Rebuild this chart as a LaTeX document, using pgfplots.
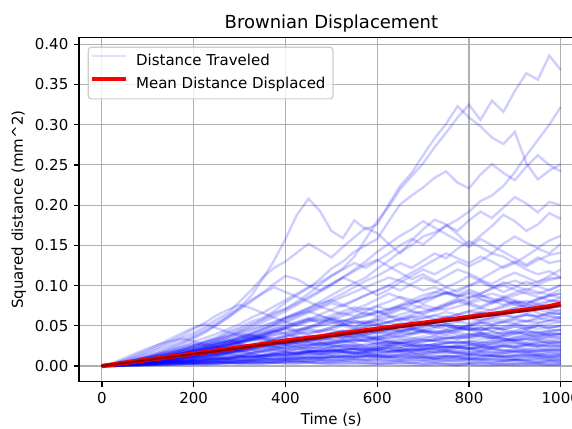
\documentclass[border=0pt]{standalone}
\usepackage{fontspec}
\setmainfont{DejaVu Sans}
\usepackage{pgfplots}
\usepackage{pgfplotstable}
\pgfplotsset{compat=1.18}
\definecolor{gridgray}{RGB}{176,176,176}
\definecolor{legedge}{RGB}{204,204,204}
\pgfplotstableread[header=has colnames]{
id 0 25 50 75 100 125 150 175 200 225 250 275 300 325 350 375 400 425 450 475 500 525 550 575 600 625 650 675 700 725 750 775 800 825 850 875 900 925 950 975 1000
p1 0 0.002 0.004 0.007 0.010 0.013 0.017 0.021 0.026 0.030 0.034 0.041 0.046 0.052 0.058 0.066 0.071 0.080 0.090 0.101 0.112 0.121 0.136 0.158 0.180 0.198 0.220 0.236 0.252 0.272 0.290 0.309 0.325 0.306 0.330 0.316 0.342 0.364 0.356 0.386 0.368
p2 0 0.001 0.004 0.006 0.010 0.015 0.021 0.027 0.034 0.042 0.051 0.061 0.073 0.087 0.108 0.131 0.158 0.188 0.208 0.193 0.168 0.159 0.181 0.170 0.176 0.201 0.224 0.240 0.262 0.283 0.301 0.323 0.309 0.298 0.284 0.276 0.291 0.252 0.232 0.243 0.251
p3 0 0.002 0.003 0.005 0.007 0.010 0.012 0.016 0.020 0.023 0.027 0.030 0.036 0.040 0.046 0.052 0.060 0.066 0.072 0.080 0.088 0.096 0.103 0.110 0.121 0.131 0.142 0.150 0.161 0.166 0.174 0.182 0.192 0.205 0.212 0.224 0.241 0.262 0.281 0.300 0.322
p4 0 0.001 0.003 0.006 0.009 0.012 0.016 0.020 0.025 0.031 0.036 0.043 0.048 0.055 0.060 0.068 0.079 0.088 0.097 0.108 0.121 0.130 0.142 0.150 0.158 0.180 0.201 0.212 0.222 0.234 0.242 0.228 0.221 0.238 0.251 0.240 0.231 0.248 0.262 0.250 0.242
p5 0 0.002 0.005 0.008 0.011 0.015 0.019 0.024 0.030 0.035 0.040 0.046 0.052 0.060 0.066 0.074 0.082 0.090 0.098 0.104 0.112 0.120 0.128 0.122 0.131 0.140 0.150 0.158 0.151 0.163 0.175 0.168 0.181 0.192 0.184 0.197 0.210 0.202 0.191 0.204 0.200
p6 0 0.003 0.006 0.011 0.016 0.022 0.028 0.035 0.041 0.049 0.058 0.066 0.080 0.094 0.110 0.122 0.130 0.141 0.152 0.144 0.135 0.148 0.160 0.172 0.165 0.152 0.140 0.156 0.170 0.182 0.176 0.164 0.150 0.162 0.174 0.188 0.180 0.168 0.176 0.190 0.183
p7 0 0.001 0.003 0.005 0.007 0.010 0.013 0.016 0.019 0.023 0.027 0.031 0.036 0.040 0.045 0.051 0.058 0.064 0.070 0.076 0.083 0.090 0.098 0.106 0.112 0.120 0.128 0.122 0.131 0.140 0.134 0.146 0.155 0.148 0.140 0.152 0.161 0.153 0.147 0.156 0.162
p8 0 0.002 0.004 0.008 0.012 0.017 0.023 0.029 0.036 0.043 0.051 0.060 0.070 0.080 0.091 0.102 0.112 0.108 0.100 0.094 0.102 0.110 0.104 0.096 0.088 0.095 0.104 0.112 0.120 0.114 0.122 0.130 0.124 0.131 0.140 0.136 0.128 0.137 0.146 0.140 0.152
p9 0 0.001 0.002 0.004 0.006 0.008 0.011 0.014 0.017 0.020 0.024 0.028 0.032 0.037 0.042 0.048 0.054 0.060 0.066 0.072 0.078 0.074 0.081 0.088 0.094 0.100 0.094 0.102 0.110 0.104 0.112 0.120 0.115 0.108 0.116 0.124 0.130 0.124 0.132 0.138 0.141
p10 0 0.001 0.003 0.005 0.008 0.011 0.014 0.018 0.022 0.026 0.031 0.036 0.042 0.048 0.054 0.061 0.068 0.076 0.084 0.092 0.100 0.110 0.120 0.130 0.142 0.152 0.162 0.170 0.180 0.172 0.164 0.156 0.148 0.158 0.150 0.142 0.134 0.126 0.135 0.128 0.131
p11 0 0.002 0.005 0.009 0.014 0.019 0.025 0.031 0.038 0.046 0.054 0.063 0.072 0.082 0.090 0.098 0.092 0.086 0.080 0.074 0.069 0.064 0.070 0.076 0.083 0.090 0.085 0.078 0.084 0.091 0.098 0.092 0.100 0.107 0.102 0.110 0.116 0.110 0.104 0.112 0.120
p12 0 0.001 0.002 0.003 0.005 0.007 0.009 0.012 0.015 0.018 0.021 0.025 0.029 0.033 0.037 0.042 0.047 0.052 0.058 0.054 0.060 0.066 0.062 0.068 0.074 0.070 0.076 0.082 0.078 0.085 0.092 0.088 0.095 0.090 0.097 0.104 0.100 0.094 0.101 0.107 0.110
p13 0 0.002 0.004 0.006 0.009 0.012 0.016 0.020 0.024 0.028 0.033 0.038 0.044 0.050 0.057 0.064 0.071 0.078 0.086 0.094 0.102 0.110 0.118 0.126 0.132 0.124 0.116 0.108 0.114 0.106 0.098 0.104 0.112 0.106 0.099 0.092 0.098 0.105 0.099 0.094 0.101
p14 0 0.001 0.002 0.004 0.006 0.009 0.012 0.015 0.018 0.022 0.026 0.030 0.034 0.039 0.036 0.041 0.046 0.043 0.048 0.053 0.058 0.055 0.061 0.066 0.062 0.068 0.073 0.070 0.076 0.072 0.078 0.084 0.080 0.086 0.090 0.086 0.091 0.096 0.092 0.089 0.095
p15 0 0.003 0.007 0.012 0.018 0.024 0.031 0.038 0.046 0.054 0.063 0.070 0.076 0.072 0.066 0.060 0.055 0.050 0.056 0.062 0.058 0.053 0.048 0.054 0.060 0.066 0.072 0.068 0.064 0.070 0.076 0.082 0.078 0.074 0.080 0.086 0.082 0.078 0.084 0.088 0.090
p16 0 0.001 0.003 0.004 0.006 0.008 0.010 0.013 0.016 0.019 0.022 0.025 0.029 0.032 0.036 0.034 0.038 0.042 0.040 0.044 0.048 0.052 0.049 0.053 0.057 0.054 0.058 0.062 0.059 0.063 0.067 0.064 0.068 0.072 0.069 0.073 0.077 0.074 0.078 0.081 0.080
p17 0 0.001 0.002 0.003 0.005 0.007 0.009 0.011 0.013 0.016 0.014 0.017 0.020 0.023 0.026 0.024 0.027 0.030 0.034 0.032 0.036 0.040 0.044 0.041 0.045 0.049 0.053 0.050 0.054 0.058 0.062 0.059 0.063 0.067 0.064 0.068 0.072 0.069 0.073 0.071 0.075
p18 0 0.001 0.003 0.005 0.007 0.010 0.013 0.016 0.020 0.024 0.028 0.032 0.036 0.041 0.046 0.051 0.056 0.062 0.068 0.074 0.080 0.086 0.092 0.098 0.104 0.110 0.106 0.100 0.094 0.098 0.092 0.086 0.090 0.084 0.078 0.082 0.076 0.072 0.076 0.070 0.068
p19 0 0.002 0.004 0.006 0.009 0.011 0.014 0.017 0.020 0.023 0.021 0.024 0.027 0.025 0.029 0.032 0.030 0.034 0.037 0.035 0.039 0.042 0.040 0.044 0.047 0.045 0.049 0.052 0.050 0.054 0.057 0.055 0.059 0.056 0.060 0.063 0.061 0.064 0.062 0.066 0.065
p20 0 0.001 0.002 0.004 0.006 0.008 0.011 0.014 0.017 0.020 0.024 0.028 0.032 0.036 0.040 0.045 0.050 0.055 0.060 0.058 0.063 0.068 0.073 0.070 0.075 0.080 0.086 0.082 0.088 0.092 0.090 0.086 0.092 0.088 0.082 0.076 0.080 0.072 0.066 0.062 0.060
p21 0 0.001 0.002 0.003 0.004 0.006 0.008 0.010 0.009 0.011 0.013 0.015 0.017 0.016 0.019 0.022 0.025 0.023 0.026 0.029 0.027 0.030 0.033 0.031 0.035 0.038 0.036 0.040 0.043 0.041 0.044 0.047 0.045 0.048 0.051 0.049 0.052 0.050 0.053 0.056 0.055
p22 0 0.003 0.008 0.014 0.020 0.027 0.034 0.041 0.048 0.052 0.047 0.042 0.038 0.034 0.039 0.044 0.040 0.036 0.032 0.036 0.040 0.044 0.041 0.037 0.033 0.037 0.041 0.045 0.042 0.038 0.042 0.046 0.050 0.047 0.044 0.048 0.052 0.049 0.046 0.048 0.050
p23 0 0.001 0.001 0.002 0.003 0.004 0.006 0.007 0.009 0.011 0.013 0.012 0.014 0.016 0.018 0.017 0.019 0.021 0.023 0.022 0.024 0.026 0.025 0.027 0.029 0.028 0.030 0.032 0.031 0.033 0.035 0.034 0.036 0.038 0.037 0.039 0.041 0.040 0.042 0.044 0.045
p24 0 0.001 0.003 0.005 0.008 0.011 0.014 0.018 0.022 0.026 0.030 0.034 0.039 0.044 0.049 0.054 0.060 0.066 0.072 0.078 0.082 0.076 0.070 0.064 0.068 0.062 0.056 0.060 0.054 0.049 0.053 0.048 0.044 0.048 0.043 0.039 0.043 0.040 0.037 0.041 0.040
p25 0 0.001 0.002 0.003 0.005 0.006 0.008 0.010 0.012 0.011 0.013 0.015 0.014 0.016 0.018 0.020 0.019 0.021 0.023 0.022 0.024 0.026 0.025 0.023 0.025 0.027 0.029 0.028 0.030 0.032 0.031 0.029 0.031 0.033 0.035 0.034 0.032 0.034 0.036 0.037 0.038
p26 0 0.000 0.001 0.002 0.002 0.003 0.004 0.005 0.007 0.008 0.010 0.009 0.011 0.013 0.012 0.014 0.016 0.015 0.017 0.019 0.018 0.020 0.022 0.021 0.023 0.025 0.024 0.026 0.025 0.027 0.029 0.028 0.030 0.029 0.031 0.033 0.032 0.034 0.033 0.035 0.035
p27 0 0.002 0.004 0.007 0.010 0.013 0.016 0.020 0.024 0.028 0.032 0.036 0.040 0.038 0.034 0.030 0.027 0.024 0.021 0.024 0.027 0.024 0.021 0.018 0.021 0.024 0.027 0.025 0.022 0.025 0.028 0.031 0.028 0.025 0.028 0.031 0.029 0.026 0.029 0.031 0.030
p28 0 0.001 0.001 0.002 0.003 0.004 0.005 0.006 0.007 0.006 0.008 0.009 0.011 0.010 0.012 0.013 0.012 0.014 0.015 0.014 0.016 0.017 0.016 0.018 0.019 0.018 0.020 0.019 0.021 0.022 0.021 0.023 0.022 0.024 0.023 0.025 0.024 0.026 0.025 0.027 0.027
p29 0 0.001 0.002 0.003 0.004 0.006 0.008 0.010 0.012 0.014 0.016 0.018 0.021 0.024 0.027 0.030 0.033 0.031 0.034 0.037 0.040 0.043 0.046 0.049 0.052 0.055 0.058 0.061 0.063 0.058 0.053 0.049 0.045 0.041 0.037 0.034 0.031 0.028 0.026 0.025 0.024
p30 0 0.000 0.001 0.001 0.002 0.003 0.003 0.004 0.005 0.004 0.005 0.006 0.007 0.006 0.008 0.009 0.008 0.009 0.011 0.010 0.011 0.012 0.011 0.013 0.014 0.013 0.014 0.015 0.014 0.016 0.017 0.016 0.017 0.018 0.017 0.018 0.019 0.018 0.019 0.020 0.020
p31 0 0.001 0.002 0.004 0.006 0.008 0.010 0.012 0.014 0.016 0.018 0.020 0.022 0.024 0.026 0.028 0.030 0.032 0.030 0.028 0.030 0.032 0.034 0.031 0.028 0.026 0.028 0.030 0.027 0.025 0.023 0.025 0.022 0.020 0.022 0.019 0.017 0.019 0.016 0.018 0.017
p32 0 0.000 0.001 0.001 0.002 0.002 0.003 0.004 0.003 0.004 0.005 0.004 0.005 0.006 0.005 0.006 0.007 0.006 0.007 0.008 0.007 0.008 0.009 0.008 0.009 0.010 0.009 0.010 0.011 0.010 0.011 0.012 0.011 0.012 0.013 0.012 0.013 0.014 0.013 0.014 0.014
p33 0 0.001 0.002 0.003 0.005 0.007 0.009 0.011 0.013 0.015 0.018 0.021 0.024 0.027 0.030 0.033 0.036 0.039 0.041 0.043 0.045 0.042 0.039 0.036 0.033 0.030 0.027 0.025 0.023 0.021 0.019 0.017 0.015 0.014 0.013 0.012 0.011 0.012 0.010 0.011 0.010
p34 0 0.000 0.001 0.001 0.001 0.002 0.002 0.003 0.002 0.003 0.003 0.004 0.003 0.004 0.005 0.004 0.005 0.006 0.005 0.006 0.005 0.006 0.007 0.006 0.007 0.006 0.007 0.008 0.007 0.008 0.007 0.008 0.009 0.008 0.009 0.008 0.007 0.008 0.009 0.008 0.008
p35 0 0.001 0.002 0.003 0.004 0.005 0.006 0.008 0.010 0.012 0.014 0.016 0.018 0.020 0.022 0.020 0.018 0.016 0.018 0.020 0.022 0.019 0.016 0.014 0.012 0.014 0.016 0.013 0.011 0.009 0.011 0.009 0.007 0.009 0.007 0.006 0.008 0.006 0.005 0.006 0.005
p36 0 0.000 0.001 0.001 0.002 0.001 0.002 0.002 0.003 0.002 0.003 0.004 0.003 0.004 0.003 0.004 0.005 0.004 0.005 0.004 0.003 0.004 0.005 0.004 0.003 0.004 0.005 0.004 0.003 0.004 0.003 0.002 0.003 0.004 0.003 0.002 0.003 0.004 0.003 0.002 0.003
p37 0 0.001 0.001 0.002 0.002 0.003 0.004 0.003 0.004 0.005 0.006 0.005 0.006 0.007 0.008 0.007 0.008 0.009 0.010 0.009 0.011 0.012 0.014 0.013 0.015 0.017 0.019 0.018 0.020 0.022 0.024 0.023 0.026 0.029 0.028 0.031 0.034 0.036 0.039 0.042 0.045
p38 0 0.001 0.003 0.004 0.006 0.008 0.010 0.012 0.014 0.016 0.019 0.022 0.025 0.023 0.027 0.030 0.033 0.031 0.035 0.038 0.041 0.044 0.042 0.045 0.048 0.046 0.043 0.046 0.049 0.052 0.050 0.047 0.050 0.053 0.056 0.054 0.057 0.055 0.058 0.061 0.060
p39 0 0.001 0.002 0.004 0.006 0.008 0.010 0.013 0.016 0.019 0.022 0.026 0.030 0.034 0.038 0.043 0.048 0.053 0.058 0.064 0.070 0.076 0.082 0.088 0.094 0.100 0.108 0.116 0.124 0.132 0.140 0.134 0.128 0.136 0.130 0.122 0.128 0.120 0.114 0.118 0.110
p40 0 0.002 0.005 0.008 0.011 0.014 0.018 0.022 0.026 0.030 0.034 0.038 0.042 0.046 0.050 0.055 0.060 0.064 0.068 0.063 0.058 0.062 0.067 0.072 0.068 0.064 0.070 0.076 0.072 0.068 0.074 0.080 0.076 0.072 0.078 0.084 0.080 0.076 0.082 0.088 0.085
p41 0 0.001 0.002 0.003 0.004 0.005 0.007 0.006 0.008 0.010 0.009 0.011 0.013 0.012 0.014 0.016 0.015 0.017 0.019 0.018 0.020 0.022 0.021 0.019 0.021 0.023 0.022 0.024 0.026 0.025 0.023 0.025 0.027 0.026 0.028 0.027 0.029 0.028 0.030 0.029 0.030
p42 0 0.001 0.002 0.003 0.005 0.007 0.009 0.011 0.013 0.015 0.017 0.019 0.021 0.023 0.025 0.027 0.029 0.031 0.033 0.035 0.033 0.031 0.034 0.036 0.034 0.031 0.029 0.027 0.025 0.027 0.025 0.023 0.021 0.023 0.021 0.019 0.021 0.019 0.018 0.020 0.020
p43 0 0.000 0.001 0.002 0.003 0.003 0.004 0.005 0.006 0.005 0.006 0.007 0.008 0.007 0.008 0.009 0.010 0.009 0.010 0.011 0.012 0.011 0.012 0.013 0.012 0.011 0.012 0.013 0.014 0.013 0.012 0.013 0.014 0.013 0.012 0.011 0.012 0.013 0.012 0.011 0.012
p44 0 0.001 0.002 0.003 0.004 0.006 0.007 0.009 0.011 0.013 0.015 0.017 0.019 0.021 0.023 0.025 0.027 0.029 0.031 0.029 0.032 0.034 0.036 0.034 0.037 0.039 0.041 0.039 0.042 0.044 0.042 0.045 0.047 0.045 0.048 0.046 0.049 0.047 0.050 0.048 0.050
p45 0 0.004 0.010 0.016 0.022 0.027 0.031 0.034 0.031 0.027 0.024 0.021 0.018 0.016 0.018 0.020 0.022 0.020 0.018 0.020 0.023 0.025 0.027 0.025 0.028 0.030 0.028 0.031 0.033 0.031 0.034 0.036 0.034 0.037 0.035 0.038 0.036 0.039 0.037 0.040 0.040
p46 0 0.001 0.001 0.002 0.002 0.003 0.003 0.004 0.004 0.005 0.005 0.006 0.006 0.007 0.007 0.008 0.008 0.009 0.009 0.010 0.010 0.011 0.011 0.012 0.012 0.011 0.011 0.010 0.010 0.009 0.009 0.008 0.009 0.008 0.008 0.007 0.008 0.007 0.007 0.008 0.007
p47 0 0.001 0.002 0.003 0.004 0.005 0.007 0.009 0.011 0.013 0.015 0.017 0.020 0.023 0.026 0.029 0.032 0.035 0.038 0.036 0.039 0.042 0.045 0.048 0.046 0.049 0.052 0.055 0.053 0.056 0.059 0.057 0.060 0.058 0.061 0.063 0.061 0.064 0.062 0.066 0.065
p48 0 0.000 0.001 0.001 0.002 0.003 0.004 0.005 0.006 0.007 0.008 0.009 0.010 0.011 0.012 0.013 0.014 0.015 0.016 0.015 0.017 0.018 0.017 0.019 0.020 0.019 0.021 0.022 0.021 0.023 0.024 0.023 0.022 0.024 0.023 0.025 0.024 0.026 0.025 0.024 0.025
p49 0 0.001 0.002 0.003 0.004 0.005 0.006 0.007 0.008 0.009 0.010 0.011 0.012 0.011 0.013 0.014 0.013 0.015 0.016 0.015 0.017 0.018 0.017 0.016 0.018 0.019 0.018 0.017 0.016 0.018 0.017 0.016 0.015 0.017 0.016 0.015 0.014 0.016 0.015 0.014 0.015
p50 0 0.000 0.001 0.001 0.001 0.002 0.002 0.002 0.003 0.003 0.003 0.004 0.004 0.003 0.003 0.004 0.004 0.005 0.004 0.004 0.005 0.005 0.004 0.004 0.003 0.003 0.004 0.004 0.003 0.003 0.002 0.002 0.003 0.003 0.002 0.002 0.002 0.003 0.002 0.002 0.002
p51 0 0.002 0.004 0.005 0.008 0.010 0.012 0.015 0.013 0.016 0.019 0.022 0.020 0.024 0.027 0.025 0.029 0.033 0.030 0.034 0.038 0.035 0.039 0.043 0.040 0.044 0.048 0.045 0.049 0.053 0.050 0.046 0.050 0.054 0.051 0.055 0.059 0.056 0.060 0.057 0.061
p52 0 0.001 0.003 0.005 0.007 0.010 0.012 0.015 0.018 0.021 0.024 0.027 0.030 0.033 0.036 0.039 0.042 0.045 0.048 0.051 0.054 0.050 0.046 0.049 0.052 0.048 0.044 0.047 0.043 0.040 0.043 0.039 0.036 0.039 0.035 0.032 0.035 0.038 0.034 0.037 0.035
p53 0 0.001 0.002 0.002 0.003 0.004 0.005 0.006 0.005 0.006 0.007 0.008 0.007 0.009 0.010 0.009 0.011 0.012 0.011 0.013 0.014 0.013 0.015 0.016 0.015 0.017 0.018 0.017 0.016 0.018 0.019 0.018 0.020 0.019 0.021 0.020 0.019 0.021 0.020 0.022 0.022
p54 0 0.001 0.002 0.003 0.005 0.007 0.009 0.011 0.013 0.015 0.017 0.019 0.021 0.023 0.025 0.027 0.029 0.031 0.034 0.032 0.035 0.038 0.036 0.039 0.042 0.046 0.050 0.054 0.052 0.056 0.060 0.064 0.068 0.066 0.070 0.075 0.080 0.078 0.083 0.087 0.090
p55 0 0.002 0.005 0.008 0.011 0.014 0.017 0.020 0.023 0.026 0.029 0.031 0.028 0.025 0.027 0.024 0.021 0.023 0.020 0.018 0.020 0.017 0.015 0.017 0.014 0.012 0.014 0.016 0.013 0.011 0.013 0.011 0.009 0.011 0.013 0.011 0.009 0.011 0.013 0.011 0.012
p56 0 0.001 0.002 0.004 0.006 0.008 0.010 0.012 0.014 0.016 0.018 0.016 0.019 0.021 0.024 0.022 0.025 0.027 0.025 0.028 0.030 0.028 0.031 0.033 0.031 0.029 0.032 0.034 0.037 0.035 0.038 0.036 0.039 0.041 0.039 0.042 0.040 0.043 0.041 0.044 0.045
p57 0 0.001 0.003 0.005 0.008 0.011 0.014 0.017 0.020 0.023 0.026 0.030 0.034 0.038 0.042 0.046 0.050 0.054 0.058 0.055 0.060 0.057 0.053 0.056 0.052 0.055 0.059 0.056 0.060 0.063 0.060 0.064 0.061 0.065 0.062 0.066 0.069 0.066 0.070 0.067 0.070
p58 0 0.000 0.001 0.001 0.002 0.002 0.002 0.003 0.003 0.004 0.004 0.005 0.004 0.005 0.006 0.005 0.006 0.007 0.006 0.007 0.008 0.007 0.008 0.007 0.006 0.007 0.006 0.005 0.006 0.005 0.006 0.005 0.004 0.005 0.004 0.005 0.004 0.003 0.004 0.005 0.004
p59 0 0.001 0.002 0.003 0.004 0.005 0.007 0.009 0.011 0.013 0.015 0.017 0.019 0.018 0.021 0.024 0.022 0.025 0.028 0.026 0.029 0.032 0.030 0.033 0.036 0.034 0.038 0.041 0.044 0.042 0.045 0.042 0.039 0.041 0.038 0.035 0.032 0.034 0.031 0.029 0.028
p60 0 0.001 0.001 0.002 0.003 0.004 0.005 0.006 0.007 0.008 0.009 0.010 0.012 0.011 0.013 0.015 0.014 0.016 0.018 0.017 0.019 0.021 0.023 0.022 0.025 0.027 0.029 0.028 0.031 0.033 0.035 0.034 0.037 0.040 0.042 0.041 0.044 0.047 0.050 0.052 0.055
p61 0 0.001 0.003 0.004 0.006 0.008 0.007 0.009 0.011 0.010 0.012 0.014 0.013 0.015 0.014 0.016 0.018 0.017 0.019 0.018 0.020 0.019 0.021 0.020 0.022 0.021 0.019 0.021 0.020 0.018 0.020 0.019 0.017 0.019 0.018 0.016 0.018 0.017 0.019 0.018 0.018
p62 0 0.001 0.002 0.004 0.006 0.008 0.010 0.013 0.016 0.019 0.022 0.025 0.028 0.031 0.034 0.032 0.036 0.040 0.044 0.042 0.046 0.050 0.054 0.052 0.056 0.060 0.064 0.068 0.066 0.071 0.076 0.080 0.085 0.090 0.096 0.100 0.095 0.090 0.086 0.082 0.080
p63 0 0.001 0.002 0.003 0.004 0.005 0.006 0.005 0.006 0.007 0.008 0.009 0.008 0.009 0.010 0.011 0.010 0.011 0.012 0.011 0.012 0.013 0.012 0.011 0.012 0.011 0.010 0.011 0.010 0.009 0.010 0.011 0.010 0.009 0.010 0.009 0.008 0.009 0.010 0.009 0.009
p64 0 0.002 0.004 0.006 0.009 0.012 0.015 0.018 0.021 0.024 0.027 0.030 0.034 0.037 0.034 0.031 0.028 0.031 0.028 0.025 0.028 0.031 0.028 0.025 0.028 0.031 0.034 0.031 0.034 0.037 0.034 0.037 0.040 0.037 0.034 0.037 0.040 0.043 0.040 0.038 0.040
p65 0 0.001 0.002 0.003 0.005 0.007 0.009 0.011 0.013 0.015 0.017 0.020 0.023 0.021 0.024 0.027 0.030 0.028 0.031 0.034 0.037 0.035 0.038 0.041 0.044 0.042 0.045 0.048 0.046 0.049 0.052 0.055 0.053 0.056 0.059 0.057 0.060 0.063 0.061 0.064 0.065
p66 0 0.001 0.002 0.003 0.004 0.005 0.006 0.007 0.008 0.009 0.011 0.010 0.012 0.014 0.013 0.015 0.017 0.016 0.018 0.017 0.019 0.018 0.020 0.019 0.021 0.023 0.022 0.020 0.022 0.024 0.023 0.025 0.024 0.026 0.025 0.027 0.026 0.028 0.027 0.029 0.030
p67 0 0.001 0.003 0.005 0.007 0.009 0.012 0.015 0.018 0.021 0.024 0.027 0.030 0.033 0.036 0.034 0.038 0.042 0.046 0.044 0.048 0.052 0.056 0.054 0.058 0.062 0.060 0.064 0.068 0.072 0.070 0.074 0.078 0.082 0.080 0.084 0.088 0.092 0.090 0.095 0.100
p68 0 0.001 0.002 0.004 0.006 0.008 0.010 0.012 0.014 0.016 0.018 0.020 0.022 0.024 0.026 0.028 0.030 0.028 0.026 0.028 0.025 0.023 0.025 0.022 0.020 0.022 0.019 0.021 0.018 0.016 0.018 0.016 0.014 0.016 0.014 0.016 0.018 0.016 0.014 0.016 0.015
p69 0 0.002 0.005 0.008 0.012 0.016 0.020 0.024 0.028 0.025 0.029 0.033 0.030 0.034 0.031 0.028 0.032 0.036 0.033 0.037 0.041 0.038 0.042 0.039 0.036 0.040 0.044 0.041 0.045 0.042 0.039 0.043 0.047 0.044 0.048 0.045 0.049 0.046 0.050 0.047 0.050
p70 0 0.000 0.001 0.001 0.002 0.002 0.003 0.003 0.004 0.004 0.005 0.004 0.005 0.006 0.005 0.006 0.007 0.006 0.007 0.008 0.007 0.008 0.009 0.008 0.009 0.008 0.007 0.008 0.007 0.006 0.007 0.006 0.007 0.006 0.005 0.006 0.007 0.006 0.005 0.006 0.006
p71 0 0.001 0.002 0.004 0.006 0.009 0.012 0.015 0.018 0.021 0.024 0.027 0.031 0.035 0.039 0.043 0.047 0.045 0.049 0.053 0.057 0.055 0.059 0.063 0.067 0.071 0.075 0.079 0.083 0.087 0.091 0.088 0.085 0.088 0.084 0.081 0.078 0.081 0.077 0.074 0.075
p72 0 0.000 0.001 0.002 0.003 0.004 0.005 0.006 0.007 0.008 0.009 0.008 0.010 0.011 0.010 0.012 0.013 0.012 0.014 0.015 0.014 0.016 0.017 0.016 0.018 0.017 0.019 0.020 0.019 0.021 0.020 0.022 0.021 0.023 0.022 0.024 0.023 0.025 0.024 0.026 0.025
p73 0 0.001 0.003 0.005 0.007 0.009 0.012 0.015 0.018 0.021 0.024 0.027 0.031 0.035 0.039 0.043 0.047 0.051 0.055 0.058 0.055 0.052 0.056 0.053 0.050 0.054 0.051 0.048 0.052 0.049 0.046 0.050 0.047 0.044 0.048 0.045 0.042 0.045 0.042 0.039 0.040
p74 0 0.001 0.001 0.002 0.003 0.004 0.005 0.004 0.005 0.006 0.007 0.006 0.007 0.008 0.009 0.008 0.009 0.010 0.009 0.010 0.011 0.010 0.011 0.012 0.011 0.012 0.013 0.012 0.011 0.012 0.013 0.012 0.013 0.014 0.013 0.012 0.013 0.014 0.013 0.012 0.013
p75 0 0.001 0.002 0.003 0.004 0.006 0.008 0.010 0.012 0.014 0.016 0.018 0.020 0.022 0.025 0.028 0.026 0.029 0.032 0.035 0.038 0.036 0.040 0.044 0.042 0.046 0.050 0.048 0.052 0.056 0.060 0.058 0.062 0.066 0.064 0.068 0.072 0.076 0.074 0.080 0.085
p76 0 0.001 0.002 0.003 0.004 0.005 0.006 0.008 0.010 0.012 0.014 0.016 0.018 0.020 0.019 0.021 0.023 0.025 0.024 0.026 0.028 0.030 0.032 0.031 0.033 0.035 0.037 0.035 0.033 0.031 0.029 0.030 0.028 0.026 0.024 0.025 0.023 0.021 0.022 0.020 0.020
p77 0 0.002 0.004 0.006 0.008 0.010 0.013 0.016 0.019 0.017 0.020 0.023 0.026 0.024 0.027 0.030 0.028 0.031 0.034 0.032 0.035 0.038 0.036 0.039 0.042 0.040 0.043 0.046 0.044 0.047 0.050 0.048 0.051 0.054 0.052 0.055 0.053 0.056 0.054 0.057 0.058
p78 0 0.001 0.002 0.003 0.004 0.005 0.006 0.007 0.006 0.008 0.010 0.009 0.011 0.013 0.012 0.014 0.016 0.015 0.017 0.019 0.018 0.020 0.022 0.021 0.023 0.025 0.024 0.026 0.025 0.027 0.029 0.028 0.030 0.029 0.031 0.030 0.032 0.031 0.033 0.032 0.033
p79 0 0.001 0.002 0.004 0.006 0.008 0.011 0.014 0.017 0.020 0.023 0.026 0.029 0.032 0.035 0.038 0.041 0.044 0.047 0.050 0.053 0.056 0.059 0.062 0.066 0.070 0.074 0.078 0.082 0.086 0.090 0.095 0.100 0.104 0.098 0.102 0.106 0.101 0.105 0.109 0.110
p80 0 0.000 0.001 0.001 0.001 0.002 0.002 0.003 0.003 0.002 0.003 0.003 0.004 0.003 0.004 0.004 0.003 0.003 0.004 0.003 0.003 0.002 0.003 0.002 0.002 0.003 0.002 0.002 0.001 0.002 0.002 0.001 0.002 0.001 0.001 0.002 0.001 0.001 0.002 0.001 0.001
}\raw
\pgfplotstabletranspose[colnames from=id]\paths\raw
\begin{document}
\begin{tikzpicture}
\begin{axis}[
  at={(0pt,0pt)}, anchor=south west,
  scale only axis, width=504.7pt, height=344pt,
  xmin=-50, xmax=1050, ymin=-0.0195, ymax=0.4082,
  xtick={0,200,400,600,800,1000},
  ytick={0,0.05,0.1,0.15,0.2,0.25,0.3,0.35,0.4},
  /pgf/number format/assume math mode=true,
  xticklabel style={/pgf/number format/1000 sep={}, font=\fontsize{15}{18}\selectfont, inner sep=0pt, anchor=north, yshift=-5.25pt},
  yticklabel style={/pgf/number format/.cd, fixed, fixed zerofill, precision=2, /tikz/.cd, font=\fontsize{15}{18}\selectfont, inner sep=0pt, anchor=east, xshift=-5.25pt},
  tick align=outside, tick pos=left, major tick length=5.25pt,
  grid=major, grid style={gridgray, line width=1.1pt},
  axis line style={line width=1.2pt, black},
  tick style={line width=1.2pt, black},
  legend cell align=left,
  legend image code/.code={\draw[#1] (-3pt,5.8pt) -- (31pt,5.8pt);},
  legend style={at={(rel axis cs:0.01724,0.97384)}, anchor=north west,
    draw=legedge, line width=1.2pt, rounded corners=3pt,
    fill=white, fill opacity=0.8, draw opacity=1, text opacity=1,
    inner xsep=1pt, inner ysep=2.5pt, row sep=0pt, column sep=6.8pt,
    nodes={inner xsep=1.5pt, inner ysep=4.4pt, text height=11pt, text depth=3.5pt, font=\fontsize{15}{18}\selectfont}},
]
\pgfplotsinvokeforeach{1,...,80}{
  \addplot[blue, opacity=0.19, line width=2.4pt, forget plot] table[x=colnames, y=p#1] {\paths};
}
\addlegendimage{blue, opacity=0.12, line width=2pt}
\addlegendentry{Distance Traveled}
\addplot[red, line width=4.5pt] coordinates {
(0,0) (25,0.0018) (50,0.0040) (75,0.0058) (100,0.0078) (125,0.0096) (150,0.0116) (175,0.0134) (200,0.0154) (225,0.0172) (250,0.0193) (275,0.0211) (300,0.0232) (325,0.0250) (350,0.0271) (375,0.0292) (400,0.0314) (425,0.0330) (450,0.0349) (475,0.0366) (500,0.0386) (525,0.0404) (550,0.0425) (575,0.0443) (600,0.0462) (625,0.0481) (650,0.0498) (675,0.0518) (700,0.0536) (725,0.0553) (750,0.0573) (775,0.0590) (800,0.0610) (825,0.0627) (850,0.0646) (875,0.0662) (900,0.0683) (925,0.0700) (950,0.0720) (975,0.0742) (1000,0.0776)};
\addlegendentry{Mean Distance Displaced\hspace*{5pt}}
\addplot[black, opacity=0.42, line width=2.5pt, forget plot] coordinates {(0,0) (1000,0.0745)};
\end{axis}
\node[anchor=base, font=\fontsize{18}{21.6}\selectfont, inner sep=0pt] at (252.35pt,353pt) {Brownian Displacement};
\node[anchor=base, font=\fontsize{15}{18}\selectfont, inner sep=0pt] at (252.35pt,-42.3pt) {Time (s)};
\node[anchor=base, rotate=90, font=\fontsize{15}{18}\selectfont, inner sep=0pt] at (-56pt,172pt) {Squared distance (mm\^{}2)};
\pgfresetboundingbox
\path[use as bounding box] (-79pt,-46.3pt) rectangle (493pt,381.7pt);
\end{tikzpicture}
\end{document}
